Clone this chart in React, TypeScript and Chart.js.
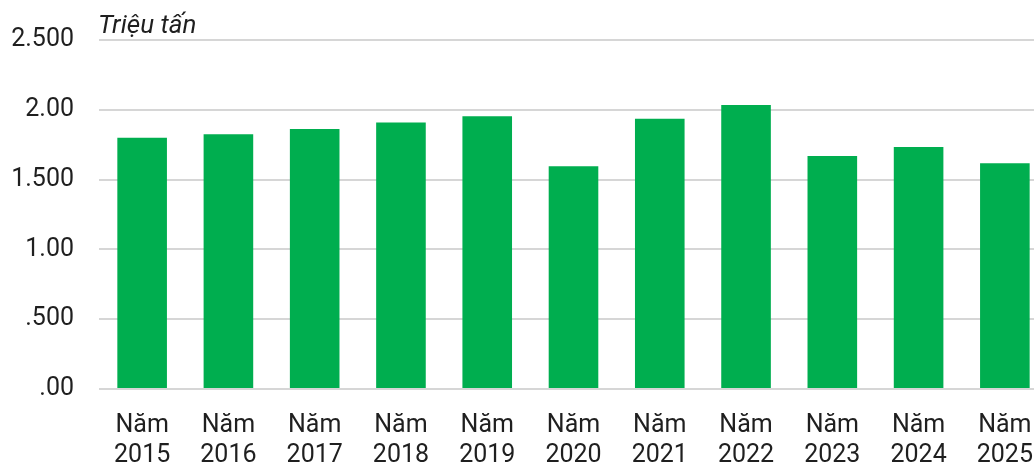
import React, { useEffect, useRef } from "react";
import { Chart, registerables } from "chart.js";

Chart.register(...registerables);

const years = ["2015", "2016", "2017", "2018", "2019", "2020", "2021", "2022", "2023", "2024", "2025"];
const values = [1800, 1824, 1862, 1909, 1954, 1595, 1935, 2035, 1669, 1733, 1617];
const yTickLabels = [".00", ".500", "1.00", "1.500", "2.00", "2.500"];
const unitLabel = "Triệu tấn";

const FONT = "Roboto, 'Noto Sans', sans-serif";

export default function App() {
  const ref = useRef<HTMLCanvasElement | null>(null);

  useEffect(() => {
    if (!ref.current) return;
    const unitPlugin = {
      id: "unitLabel",
      afterDraw(chart: any) {
        const ctx = chart.ctx;
        ctx.save();
        ctx.font = `italic 26px ${FONT}`;
        ctx.fillStyle = "#1f1f1f";
        ctx.textAlign = "left";
        ctx.textBaseline = "alphabetic";
        ctx.fillText(unitLabel, chart.chartArea.left - 1, 33);
        ctx.restore();
      },
    };
    const chart = new Chart(ref.current, {
      type: "bar",
      data: {
        labels: years.map((y) => ["Năm", y]),
        datasets: [
          {
            data: values,
            backgroundColor: "#00AE4F",
            borderWidth: 0,
            categoryPercentage: 1,
            barPercentage: 0.575,
          },
        ],
      },
      options: {
        animation: false,
        responsive: false,
        maintainAspectRatio: false,
        layout: { padding: { top: 38, left: 0, right: 0, bottom: 0 } },
        plugins: { legend: { display: false }, tooltip: { enabled: false } },
        scales: {
          x: {
            grid: { display: false },
            border: { display: false },
            ticks: {
              color: "#1f1f1f",
              font: { family: FONT, size: 25, lineHeight: 1.18 },
              padding: 14,
              maxRotation: 0,
              autoSkip: false,
            },
            afterFit(scale: any) {
              scale.height = 77;
            },
          },
          y: {
            min: 0,
            max: 2500,
            grid: { color: "#d6d6d6", lineWidth: 2, drawTicks: false },
            border: { display: false },
            ticks: {
              stepSize: 500,
              color: "#1f1f1f",
              font: { family: FONT, size: 25 },
              padding: 25,
              callback: (_v: any, i: number) => yTickLabels[i],
            },
            afterFit(scale: any) {
              scale.width = 99;
            },
          },
        },
      },
      plugins: [unitPlugin],
    });
    return () => chart.destroy();
  }, []);

  return (
    <div style={{ position: "fixed", left: 0, top: 0, width: 1034, height: 466, overflow: "hidden", background: "#fff" }}>
      <canvas ref={ref} width={1048} height={466} style={{ display: "block" }} />
    </div>
  );
}
